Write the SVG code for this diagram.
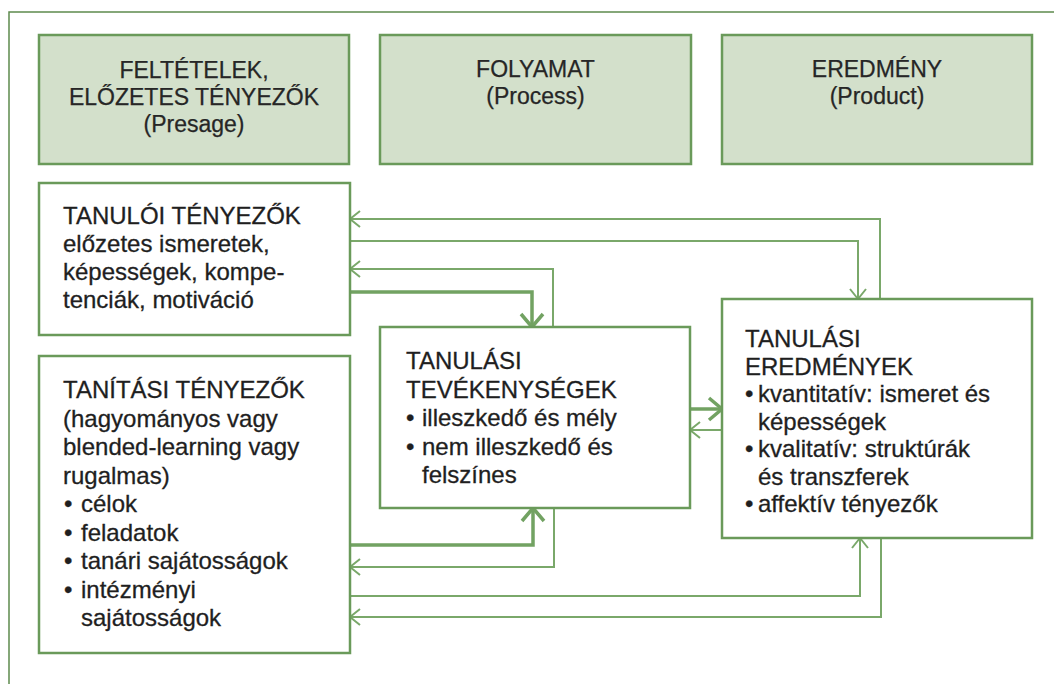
<svg xmlns="http://www.w3.org/2000/svg" width="1054" height="684" viewBox="0 0 1054 684">
<style>
.frame{fill:none;stroke:#5e8a4e;stroke-width:1.5}
.hdr{fill:#d3e0cb;stroke:#6a9a5a;stroke-width:2.5}
.box{fill:#ffffff;stroke:#6a9a5a;stroke-width:2.5}
.ht{font-family:"Liberation Sans",Arial,sans-serif;font-size:23px;fill:#262626;stroke:#262626;stroke-width:0.25;text-anchor:middle}
.bt{font-family:"Liberation Sans",Arial,sans-serif;font-size:24px;fill:#1f1f1f;stroke:#1f1f1f;stroke-width:0.3}
.thin{fill:none;stroke:#7aa86a;stroke-width:2}
.thick{fill:none;stroke:#72a262;stroke-width:3.5}
</style>
<defs>
<marker id="ah" markerUnits="userSpaceOnUse" viewBox="-14 -11 16 22" refX="0" refY="0" markerWidth="16" markerHeight="22" orient="auto">
<path d="M-10,-8 L0,0 L-10,8" fill="none" stroke="#7aa86a" stroke-width="2"/>
</marker>
<marker id="ahT" markerUnits="userSpaceOnUse" viewBox="-18 -15 22 30" refX="0" refY="0" markerWidth="22" markerHeight="30" orient="auto">
<path d="M-13,-11 L0,0 L-13,11" fill="none" stroke="#72a262" stroke-width="3.5"/>
</marker>
</defs>
<rect width="1054" height="684" fill="#ffffff"/>
<rect class="frame" x="9" y="12" width="1100" height="720"/>

<g id="hdr-presage">
<rect class="hdr" x="39" y="35" width="310" height="129"/>
<text class="ht" x="194" y="78">FELTÉTELEK,</text>
<text class="ht" x="194" y="105">ELŐZETES TÉNYEZŐK</text>
<text class="ht" x="194" y="132">(Presage)</text>
</g>
<g id="hdr-process">
<rect class="hdr" x="380" y="35" width="311" height="129"/>
<text class="ht" x="535.5" y="77">FOLYAMAT</text>
<text class="ht" x="535.5" y="104">(Process)</text>
</g>
<g id="hdr-product">
<rect class="hdr" x="722" y="35" width="310" height="129"/>
<text class="ht" x="877" y="77">EREDMÉNY</text>
<text class="ht" x="877" y="104">(Product)</text>
</g>

<g id="connectors">
<path class="thin" d="M880,299 V219 H350" marker-end="url(#ah)"/>
<path class="thin" d="M350,241 H858 V299" marker-end="url(#ah)"/>
<path class="thin" d="M553,327 V269 H350" marker-end="url(#ah)"/>
<path class="thick" d="M350,292 H532 V327" marker-end="url(#ahT)"/>
<path class="thick" d="M690,409 H722" marker-end="url(#ahT)"/>
<path class="thin" d="M722,430 H690" marker-end="url(#ah)"/>
<path class="thick" d="M350,545 H533 V508" marker-end="url(#ahT)"/>
<path class="thin" d="M554,508 V567 H350" marker-end="url(#ah)"/>
<path class="thin" d="M350,596 H860 V538" marker-end="url(#ah)"/>
<path class="thin" d="M881,538 V617 H350" marker-end="url(#ah)"/>
</g>

<g id="tanuloi">
<rect class="box" x="39" y="183" width="311" height="152"/>
<text class="bt" x="63" y="224">TANULÓI TÉNYEZŐK</text>
<text class="bt" x="63" y="252">előzetes ismeretek,</text>
<text class="bt" x="63" y="280">képességek, kompe-</text>
<text class="bt" x="63" y="308">tenciák, motiváció</text>
</g>

<g id="tanitasi">
<rect class="box" x="39" y="356" width="311" height="297"/>
<text class="bt" x="63" y="398">TANÍTÁSI TÉNYEZŐK</text>
<text class="bt" x="63" y="426.5">(hagyományos vagy</text>
<text class="bt" x="63" y="455">blended-learning vagy</text>
<text class="bt" x="63" y="483.5">rugalmas)</text>
<text class="bt" x="64" y="512">•</text><text class="bt" x="81" y="512">célok</text>
<text class="bt" x="64" y="540.5">•</text><text class="bt" x="81" y="540.5">feladatok</text>
<text class="bt" x="64" y="569">•</text><text class="bt" x="81" y="569">tanári sajátosságok</text>
<text class="bt" x="64" y="597.5">•</text><text class="bt" x="81" y="597.5">intézményi</text>
<text class="bt" x="81" y="626">sajátosságok</text>
</g>

<g id="tevekenysegek">
<rect class="box" x="380" y="327" width="310" height="181"/>
<text class="bt" x="406" y="369">TANULÁSI</text>
<text class="bt" x="406" y="398">TEVÉKENYSÉGEK</text>
<text class="bt" x="406" y="426">•</text><text class="bt" x="422" y="426">illeszkedő és mély</text>
<text class="bt" x="406" y="455">•</text><text class="bt" x="422" y="455">nem illeszkedő és</text>
<text class="bt" x="422" y="483">felszínes</text>
</g>

<g id="eredmenyek">
<rect class="box" x="722" y="299" width="310" height="239"/>
<text class="bt" x="745" y="347">TANULÁSI</text>
<text class="bt" x="745" y="374.5">EREDMÉNYEK</text>
<text class="bt" x="745" y="402">•</text><text class="bt" x="758" y="402">kvantitatív: ismeret és</text>
<text class="bt" x="758" y="429.5">képességek</text>
<text class="bt" x="745" y="457">•</text><text class="bt" x="758" y="457">kvalitatív: struktúrák</text>
<text class="bt" x="758" y="484.5">és transzferek</text>
<text class="bt" x="745" y="512">•</text><text class="bt" x="758" y="512">affektív tényezők</text>
</g>
</svg>
